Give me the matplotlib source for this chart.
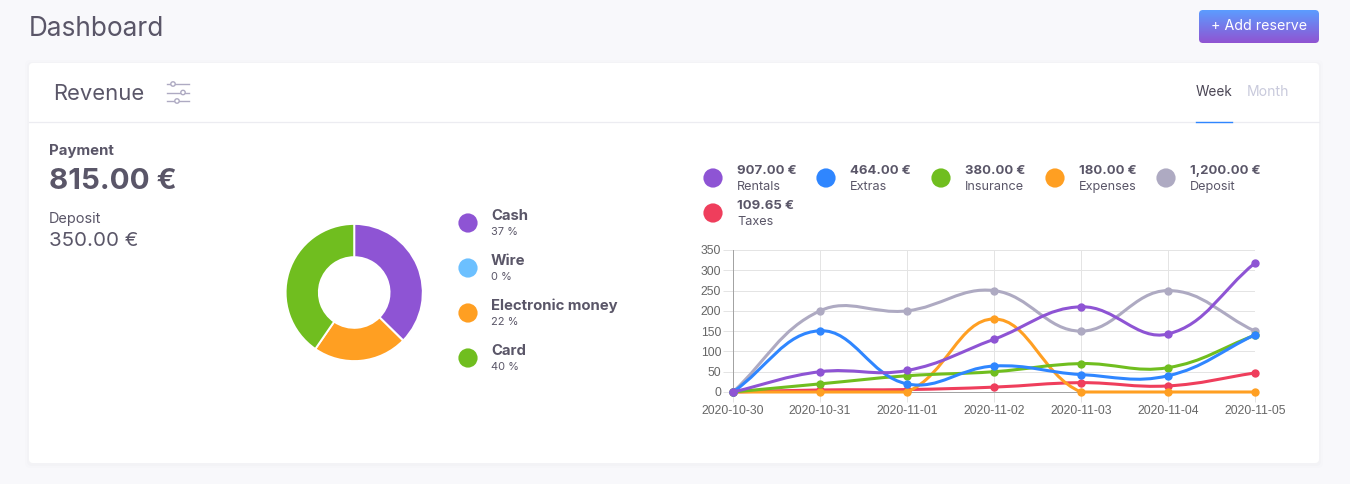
import numpy as np
import matplotlib
matplotlib.use("Agg")
import matplotlib.pyplot as plt
from matplotlib.patches import FancyBboxPatch, Circle, PathPatch
from matplotlib.path import Path

dates = ["2020-10-30", "2020-10-31", "2020-11-01", "2020-11-02", "2020-11-03", "2020-11-04", "2020-11-05"]
rentals = [0, 50, 53, 130, 210, 143, 318]
extras = [0, 151, 20, 64, 43, 40, 141]
insurance = [0, 20, 40, 50, 70, 60, 140]
expenses = [0, 0, 0, 180, 0, 0, 0]
deposit = [0, 200, 200, 250, 150, 250, 150]
taxes = [0, 5, 6, 12, 23, 15, 47]
series_names = ["Rentals", "Extras", "Insurance", "Expenses", "Deposit", "Taxes"]
series_totals = ["907.00 €", "464.00 €", "380.00 €", "180.00 €", "1,200.00 €", "109.65 €"]
series_values = [rentals, extras, insurance, expenses, deposit, taxes]
series_colors = ["#8e54d4", "#2f86ff", "#70be1f", "#ff9f22", "#aeaac2", "#ef3e5c"]

pay_names = ["Cash", "Wire", "Electronic money", "Card"]
pay_values = [37, 0, 22, 40]
pay_colors = ["#8e54d4", "#6cc0ff", "#ff9f22", "#70be1f"]

W, H = 1350, 484
FONT = "Inter"
DARK = "#5a5668"
fig = plt.figure(figsize=(W / 100, H / 100), dpi=100, facecolor="#f8f8fb")

bg = fig.add_axes([0, 0, 1, 1])
bg.set_xlim(0, W)
bg.set_ylim(H, 0)
bg.axis("off")

def T(x, y, s, size, color=DARK, weight="normal", ha="left", ax=bg):
    dx = -1 if ha == "left" else 0
    return ax.text(x + dx, y + 1, s, fontsize=size * 0.72, color=color, fontweight=weight,
                   ha=ha, va="center", family=FONT)

# card with soft shadow
for g, a in [(4, 0.012), (2, 0.02)]:
    bg.add_patch(FancyBboxPatch((29 - g, 63 - g + 1), 1290 + 2 * g, 400 + 2 * g,
                                boxstyle="round,pad=0,rounding_size=5", fc="#6a6a90", ec="none", alpha=a))
bg.add_patch(FancyBboxPatch((29, 63), 1290, 400, boxstyle="round,pad=0,rounding_size=4", fc="white", ec="none"))
bg.plot([29, 1319], [122, 122], color="#ececf1", lw=0.9)
bg.plot([1196, 1232], [122, 122], color="#2f86ff", lw=1.0)

# header
T(30, 27.5, "Dashboard", 26.2)
T(54, 92.5, "Revenue", 22)
for y, cx in [(84, 173), (92.5, 183), (101, 177)]:
    bg.plot([167, 189], [y, y], color="#aeaac2", lw=1.0)
    bg.add_patch(Circle((cx, y), 2.2, fc="white", ec="#aeaac2", lw=1.0, zorder=3))

# button
btn = FancyBboxPatch((1199, 10), 120, 33, boxstyle="round,pad=0,rounding_size=4", fc="none", ec="none")
bg.add_patch(btn)
grad = np.linspace(0, 1, 64)[:, None]
c0, c1 = np.array([0x5c, 0x9c, 0xff]) / 255, np.array([0x90, 0x54, 0xd2]) / 255
im = bg.imshow((c0[None, None, :] * (1 - grad[..., None]) + c1[None, None, :] * grad[..., None]),
               extent=(1199, 1319, 43, 10), aspect="auto", zorder=2)
im.set_clip_path(btn)
bg.set_xlim(0, W)
bg.set_ylim(H, 0)
T(1259, 25, "+ Add reserve", 14.2, color="white", ha="center").set_zorder(3)

T(1214, 91.5, "Week", 13.6, color="#4b4655", ha="center")
T(1267.5, 91.5, "Month", 14, color="#c9cadc", ha="center")

# left summary
T(50, 149.5, "Payment", 15, weight="bold")
T(50, 180.5, "815.00 €", 29.5, weight="bold")
T(50, 218, "Deposit", 14.5)
T(50, 240, "350.00 €", 20.5)

# donut
cx, cy, r = 354.2, 292.5, 68.6
dax = fig.add_axes([(cx - r) / W, 1 - (cy + r) / H, 2 * r / W, 2 * r / H])
dax.pie(pay_values, colors=pay_colors, startangle=90, counterclock=False, radius=1,
        wedgeprops=dict(width=0.485, edgecolor="white", linewidth=1.4))
dax.set_xlim(-1, 1)
dax.set_ylim(-1, 1)
dax.set_aspect("equal")

# donut legend
for i, (n, v, c) in enumerate(zip(pay_names, pay_values, pay_colors)):
    y = 223 + 45 * i
    bg.add_patch(Circle((468, y), 9.6, fc=c, ec="none"))
    T(492, y - 8, n, 14.9, weight="bold")
    T(492, y + 8, f"{round(v)} %", 11)

# line legend
legend_pos = [(713, 178), (826, 178), (941, 178), (1055, 178), (1166, 178), (713, 213)]
for (x, y), n, t, c in zip(legend_pos, series_names, series_totals, series_colors):
    bg.add_patch(Circle((x, y), 9.6, fc=c, ec="none"))
    T(x + 25, y - 8, t, 13.2, weight="bold")
    T(x + 25, y + 8, n, 12.7)

# line chart
L, R, TOP, BOT = 733, 1255, 250, 392
ax = fig.add_axes([L / W, 1 - BOT / H, (R - L) / W, (BOT - TOP) / H])
ax.patch.set_alpha(0)
ax.set_xlim(0, len(dates) - 1)
ax.set_ylim(0, 350)
ax.set_xticks(range(len(dates)), dates)
ax.set_yticks(range(0, 351, 50))
ax.grid(True, color="#e4e4e4", lw=0.72)
ax.set_axisbelow(True)
ax.tick_params(length=7, width=0.72, color="#e4e4e4", labelsize=8.7, labelcolor="#666666")
ax.tick_params(axis="x", pad=2.2)
ax.tick_params(axis="y", pad=1.5)
for lab in ax.get_xticklabels() + ax.get_yticklabels():
    lab.set_family("Liberation Sans")
for s in ("top", "right"):
    ax.spines[s].set_visible(False)
for s in ("left", "bottom"):
    ax.spines[s].set_color("#a3a3a3")
    ax.spines[s].set_linewidth(0.72)

def spline_path(vals, t=0.4, ymax=350):
    """Bezier path through the points, with tension t and controls capped to the axes."""
    sx, sy = (R - L) / (len(vals) - 1), (BOT - TOP) / ymax
    n = len(vals)
    sc = np.array([sx, sy])
    verts, codes = [(0, vals[0])], [Path.MOVETO]
    before, after = [], []
    for i in range(n):
        j, k = max(i - 1, 0), min(i + 1, n - 1)
        p = np.array([j, vals[j]], float)
        q = np.array([k, vals[k]], float)
        c = np.array([i, vals[i]], float)
        d01, d12 = np.hypot(*((c - p) * sc)), np.hypot(*((q - c) * sc))
        s = d01 + d12
        fa, fb = t * d01 / s, t * d12 / s
        a, b = c - fa * (q - p), c + fb * (q - p)
        a[1], b[1] = np.clip(a[1], 0, ymax), np.clip(b[1], 0, ymax)
        before.append(a)
        after.append(b)
    for i in range(1, n):
        verts += [tuple(after[i - 1]), tuple(before[i]), (i, vals[i])]
        codes += [Path.CURVE4] * 3
    return Path(verts, codes)

for k, (vals, c) in enumerate(zip(series_values, series_colors)):
    z = 20 - k
    ax.add_patch(PathPatch(spline_path(vals), fc="none", ec=c, lw=2.2, clip_on=False, zorder=z, capstyle="round"))
    ax.plot(range(len(vals)), vals, ls="none", marker="o", ms=5, color=c, mec=c, clip_on=False, zorder=z)

fig.savefig("out.png", dpi=100, facecolor=fig.get_facecolor())
